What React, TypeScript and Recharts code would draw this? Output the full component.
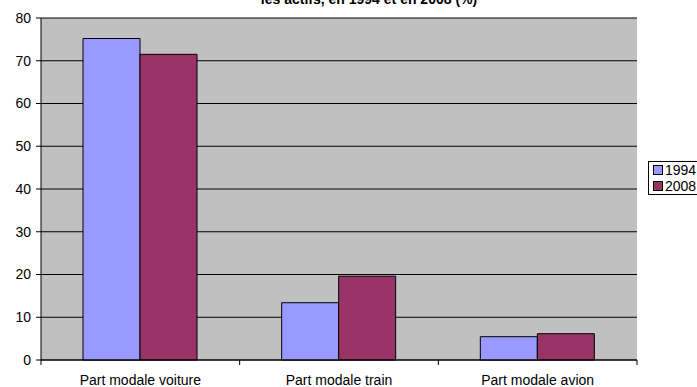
import React from "react";
import { BarChart, Bar, XAxis, YAxis, CartesianGrid } from "recharts";

const categories = ["Part modale voiture", "Part modale train", "Part modale avion"];
const values1994 = [75.2, 13.4, 5.45];
const values2008 = [71.5, 19.6, 6.15];
const yTicks = [0, 10, 20, 30, 40, 50, 60, 70, 80];
const seriesNames = ["1994", "2008"];
const seriesColors = ["#9999FF", "#993366"];

const data = categories.map((name, i) => ({
  name,
  y1994: values1994[i],
  y2008: values2008[i],
}));

const font = "'Liberation Sans', Arial, sans-serif";

const W = 697;
const H = 387;
const M = { top: 18, right: 60, left: 0, bottom: 0 };
const Y_AXIS_W = 41;
const bandW = (W - M.right - M.left - Y_AXIS_W) / categories.length;

// category label + boundary tick marks (Excel style)
function CatTick(props: any) {
  const { x, y, payload, index } = props;
  const left = x - bandW / 2;
  const right = x + bandW / 2;
  const axisY = y - 8;
  return (
    <g>
      <line x1={left} y1={axisY} x2={left} y2={axisY + 5} stroke="#000" />
      {index === categories.length - 1 && (
        <line x1={right} y1={axisY} x2={right} y2={axisY + 5} stroke="#000" />
      )}
      <text
        x={x}
        y={axisY + 25}
        textAnchor="middle"
        fill="#000"
        fontSize={14}
        fontFamily={font}
      >
        {payload.value}
      </text>
    </g>
  );
}

function LegendBox() {
  return (
    <div
      style={{
        position: "absolute",
        left: 648,
        top: 161,
        width: 70,
        border: "1px solid #000",
        background: "#fff",
        padding: "0px 0 0 4px",
        fontFamily: font,
        fontSize: 14,
        lineHeight: "16px",
      }}
    >
      {seriesNames.map((label, i) => (
        <div key={label} style={{ display: "flex", alignItems: "center" }}>
          <span
            style={{
              display: "inline-block",
              width: 8,
              height: 8,
              background: seriesColors[i],
              border: "1px solid #000",
              marginRight: 2,
            }}
          />
          {label}
        </div>
      ))}
    </div>
  );
}

export default function App() {
  return (
    <div
      style={{
        position: "absolute",
        left: 0,
        top: 0,
        width: W,
        height: H,
        background: "#fff",
        overflow: "hidden",
        fontFamily: font,
      }}
    >
      <div
        style={{
          position: "absolute",
          top: -9,
          left: 0,
          width: 738,
          textAlign: "center",
          fontWeight: "bold",
          fontSize: 14,
          lineHeight: "16px",
          fontFamily: font,
        }}
      >
        les actifs, en 1994 et en 2008 (%)
      </div>
      <BarChart
        width={W}
        height={H}
        data={data}
        margin={M}
        barGap={0}
        barSize={57}
      >
        <CartesianGrid vertical={false} stroke="#000" fill="#C0C0C0" />
        <XAxis
          dataKey="name"
          height={27}
          axisLine={{ stroke: "#000" }}
          tickLine={false}
          interval={0}
          tick={<CatTick />}
        />
        <XAxis
          xAxisId="top"
          orientation="top"
          dataKey="name"
          height={0}
          axisLine={{ stroke: "#808080" }}
          tickLine={false}
          tick={false}
        />
        <YAxis
          width={Y_AXIS_W}
          domain={[0, 80]}
          ticks={yTicks}
          interval={0}
          axisLine={{ stroke: "#000" }}
          tickLine={{ stroke: "#000" }}
          tickSize={5}
          tickMargin={5}
          tick={{ fill: "#000", fontSize: 14, fontFamily: font }}
        />
        <YAxis
          yAxisId="right"
          orientation="right"
          width={0}
          domain={[0, 80]}
          axisLine={{ stroke: "#808080" }}
          tickLine={false}
          tick={false}
        />
        <Bar
          dataKey="y1994"
          name={seriesNames[0]}
          fill={seriesColors[0]}
          stroke="#000"
          strokeWidth={1}
          isAnimationActive={false}
        />
        <Bar
          dataKey="y2008"
          name={seriesNames[1]}
          fill={seriesColors[1]}
          stroke="#000"
          strokeWidth={1}
          isAnimationActive={false}
        />
      </BarChart>
      <LegendBox />
    </div>
  );
}
